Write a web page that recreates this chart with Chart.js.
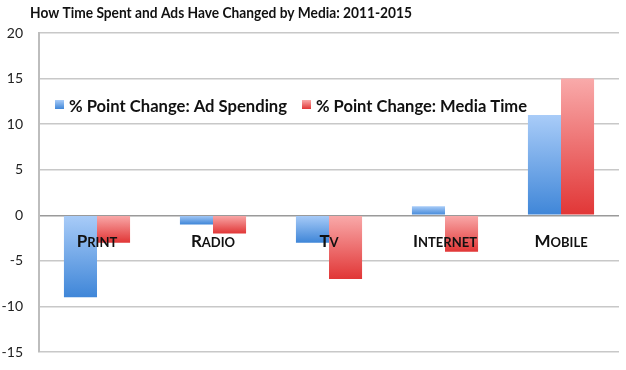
<!DOCTYPE html>
<html>
<head>
<meta charset="utf-8">
<script src="https://cdn.jsdelivr.net/npm/chart.js@4.4.1/dist/chart.umd.min.js"></script>
<style>
    html, body { margin: 0; padding: 0; background: #fff; }
    #wrap { width: 626px; height: 370px; position: relative; }
</style>
</head>
<body>
<div id="wrap"><canvas id="chart"></canvas></div>
<script>
// Datos
const titulo = 'How Time Spent and Ads Have Changed by Media: 2011-2015';
const categorias = ['Print', 'Radio', 'TV', 'Internet', 'Mobile'];
const adSpending = [-9, -1, -3, 1, 11];
const mediaTime = [-3, -2, -7, -4, 15];
const nombresSeries = ['% Point Change: Ad Spending', '% Point Change: Media Time'];
const ticksY = [-15, -10, -5, 0, 5, 10, 15, 20];

const FUENTE = 'Lato, "Open Sans", sans-serif';

// Degradado por barra: claro arriba, oscuro abajo
function degradado(claro, oscuro, plano) {
    return (c) => {
        const chart = c.chart;
        if (!chart.chartArea || c.raw === undefined) return plano;
        const y = chart.scales.y;
        const y0 = y.getPixelForValue(0);
        const y1 = y.getPixelForValue(c.raw);
        const top = Math.min(y0, y1), bottom = Math.max(y0, y1);
        if (bottom - top < 1) return plano;
        const g = chart.ctx.createLinearGradient(0, top, 0, bottom);
        g.addColorStop(0, claro);
        g.addColorStop(1, oscuro);
        return g;
    };
}

const colores = [
    { claro: '#a9ccf8', oscuro: '#3f86d8', plano: '#6fa6e8' },
    { claro: '#f9aaaa', oscuro: '#e13636', plano: '#ee7070' }
];

// Título, etiquetas en versalitas y leyenda dibujadas a mano
const extras = {
    id: 'extras',
    afterDraw(chart) {
        const ctx = chart.ctx;
        const x = chart.scales.x, y = chart.scales.y;

        ctx.save();
        ctx.fillStyle = '#111';
        ctx.textBaseline = 'alphabetic';
        ctx.textAlign = 'left';
        ctx.font = 'bold 16px ' + FUENTE;
        ctx.fillText(titulo, 30, 18, 382);

        // versalitas
        const yBase = y.getPixelForValue(0) + 32;
        categorias.forEach((cat, i) => {
            const cx = x.getPixelForValue(i);
            const primera = cat[0].toUpperCase();
            const resto = cat.slice(1).toUpperCase();
            ctx.font = 'bold 17px ' + FUENTE;
            const w1 = ctx.measureText(primera).width;
            ctx.font = 'bold 13px ' + FUENTE;
            const w2 = ctx.measureText(resto).width;
            let sx = cx - (w1 + w2) / 2;
            ctx.font = 'bold 17px ' + FUENTE;
            ctx.fillText(primera, sx, yBase);
            ctx.font = 'bold 13px ' + FUENTE;
            ctx.fillText(resto, sx + w1, yBase);
        });

        // leyenda
        const posLeyenda = [55, 302];
        const anchoTexto = [218, 211];
        const yLeyenda = 104;
        ctx.font = 'bold 17px ' + FUENTE;
        chart.data.datasets.forEach((ds, i) => {
            const lx = posLeyenda[i];
            const g = ctx.createLinearGradient(0, yLeyenda - 4, 0, yLeyenda + 5);
            g.addColorStop(0, colores[i].claro);
            g.addColorStop(1, colores[i].oscuro);
            ctx.fillStyle = g;
            ctx.fillRect(lx, yLeyenda - 4, 9, 9);
            ctx.fillStyle = '#111';
            ctx.fillText(ds.label, lx + 14, yLeyenda + 8, anchoTexto[i]);
        });
        ctx.restore();
    }
};

new Chart(document.getElementById('chart'), {
    type: 'bar',
    data: {
        labels: categorias,
        datasets: [
            {
                label: nombresSeries[0],
                data: adSpending,
                backgroundColor: degradado(colores[0].claro, colores[0].oscuro, colores[0].plano),
                categoryPercentage: 0.57,
                barPercentage: 1.0
            },
            {
                label: nombresSeries[1],
                data: mediaTime,
                backgroundColor: degradado(colores[1].claro, colores[1].oscuro, colores[1].plano),
                categoryPercentage: 0.57,
                barPercentage: 1.0
            }
        ]
    },
    options: {
        responsive: true,
        maintainAspectRatio: false,
        animation: false,
        layout: { padding: { top: 33, right: 7, bottom: 18, left: 0 } },
        plugins: {
            legend: { display: false },
            title: { display: false },
            tooltip: { enabled: false }
        },
        scales: {
            x: {
                display: false,
                grid: { display: false }
            },
            y: {
                min: -15,
                max: 20,
                afterFit: (s) => {
                    s.width = 39;
                    s.paddingTop = 0;
                    s.paddingBottom = 0;
                },
                afterBuildTicks: (s) => { s.ticks = ticksY.map(v => ({ value: v })); },
                ticks: {
                    padding: 16,
                    color: '#222',
                    font: { family: FUENTE, size: 14 }
                },
                grid: {
                    drawTicks: false,
                    color: (c) => c.tick && c.tick.value === 0 ? '#9a9a9a' : '#c8c8c8',
                    lineWidth: 1.5
                },
                border: { color: '#bdbdbd', width: 2 }
            }
        }
    },
    plugins: [extras]
});
</script>
</body>
</html>
